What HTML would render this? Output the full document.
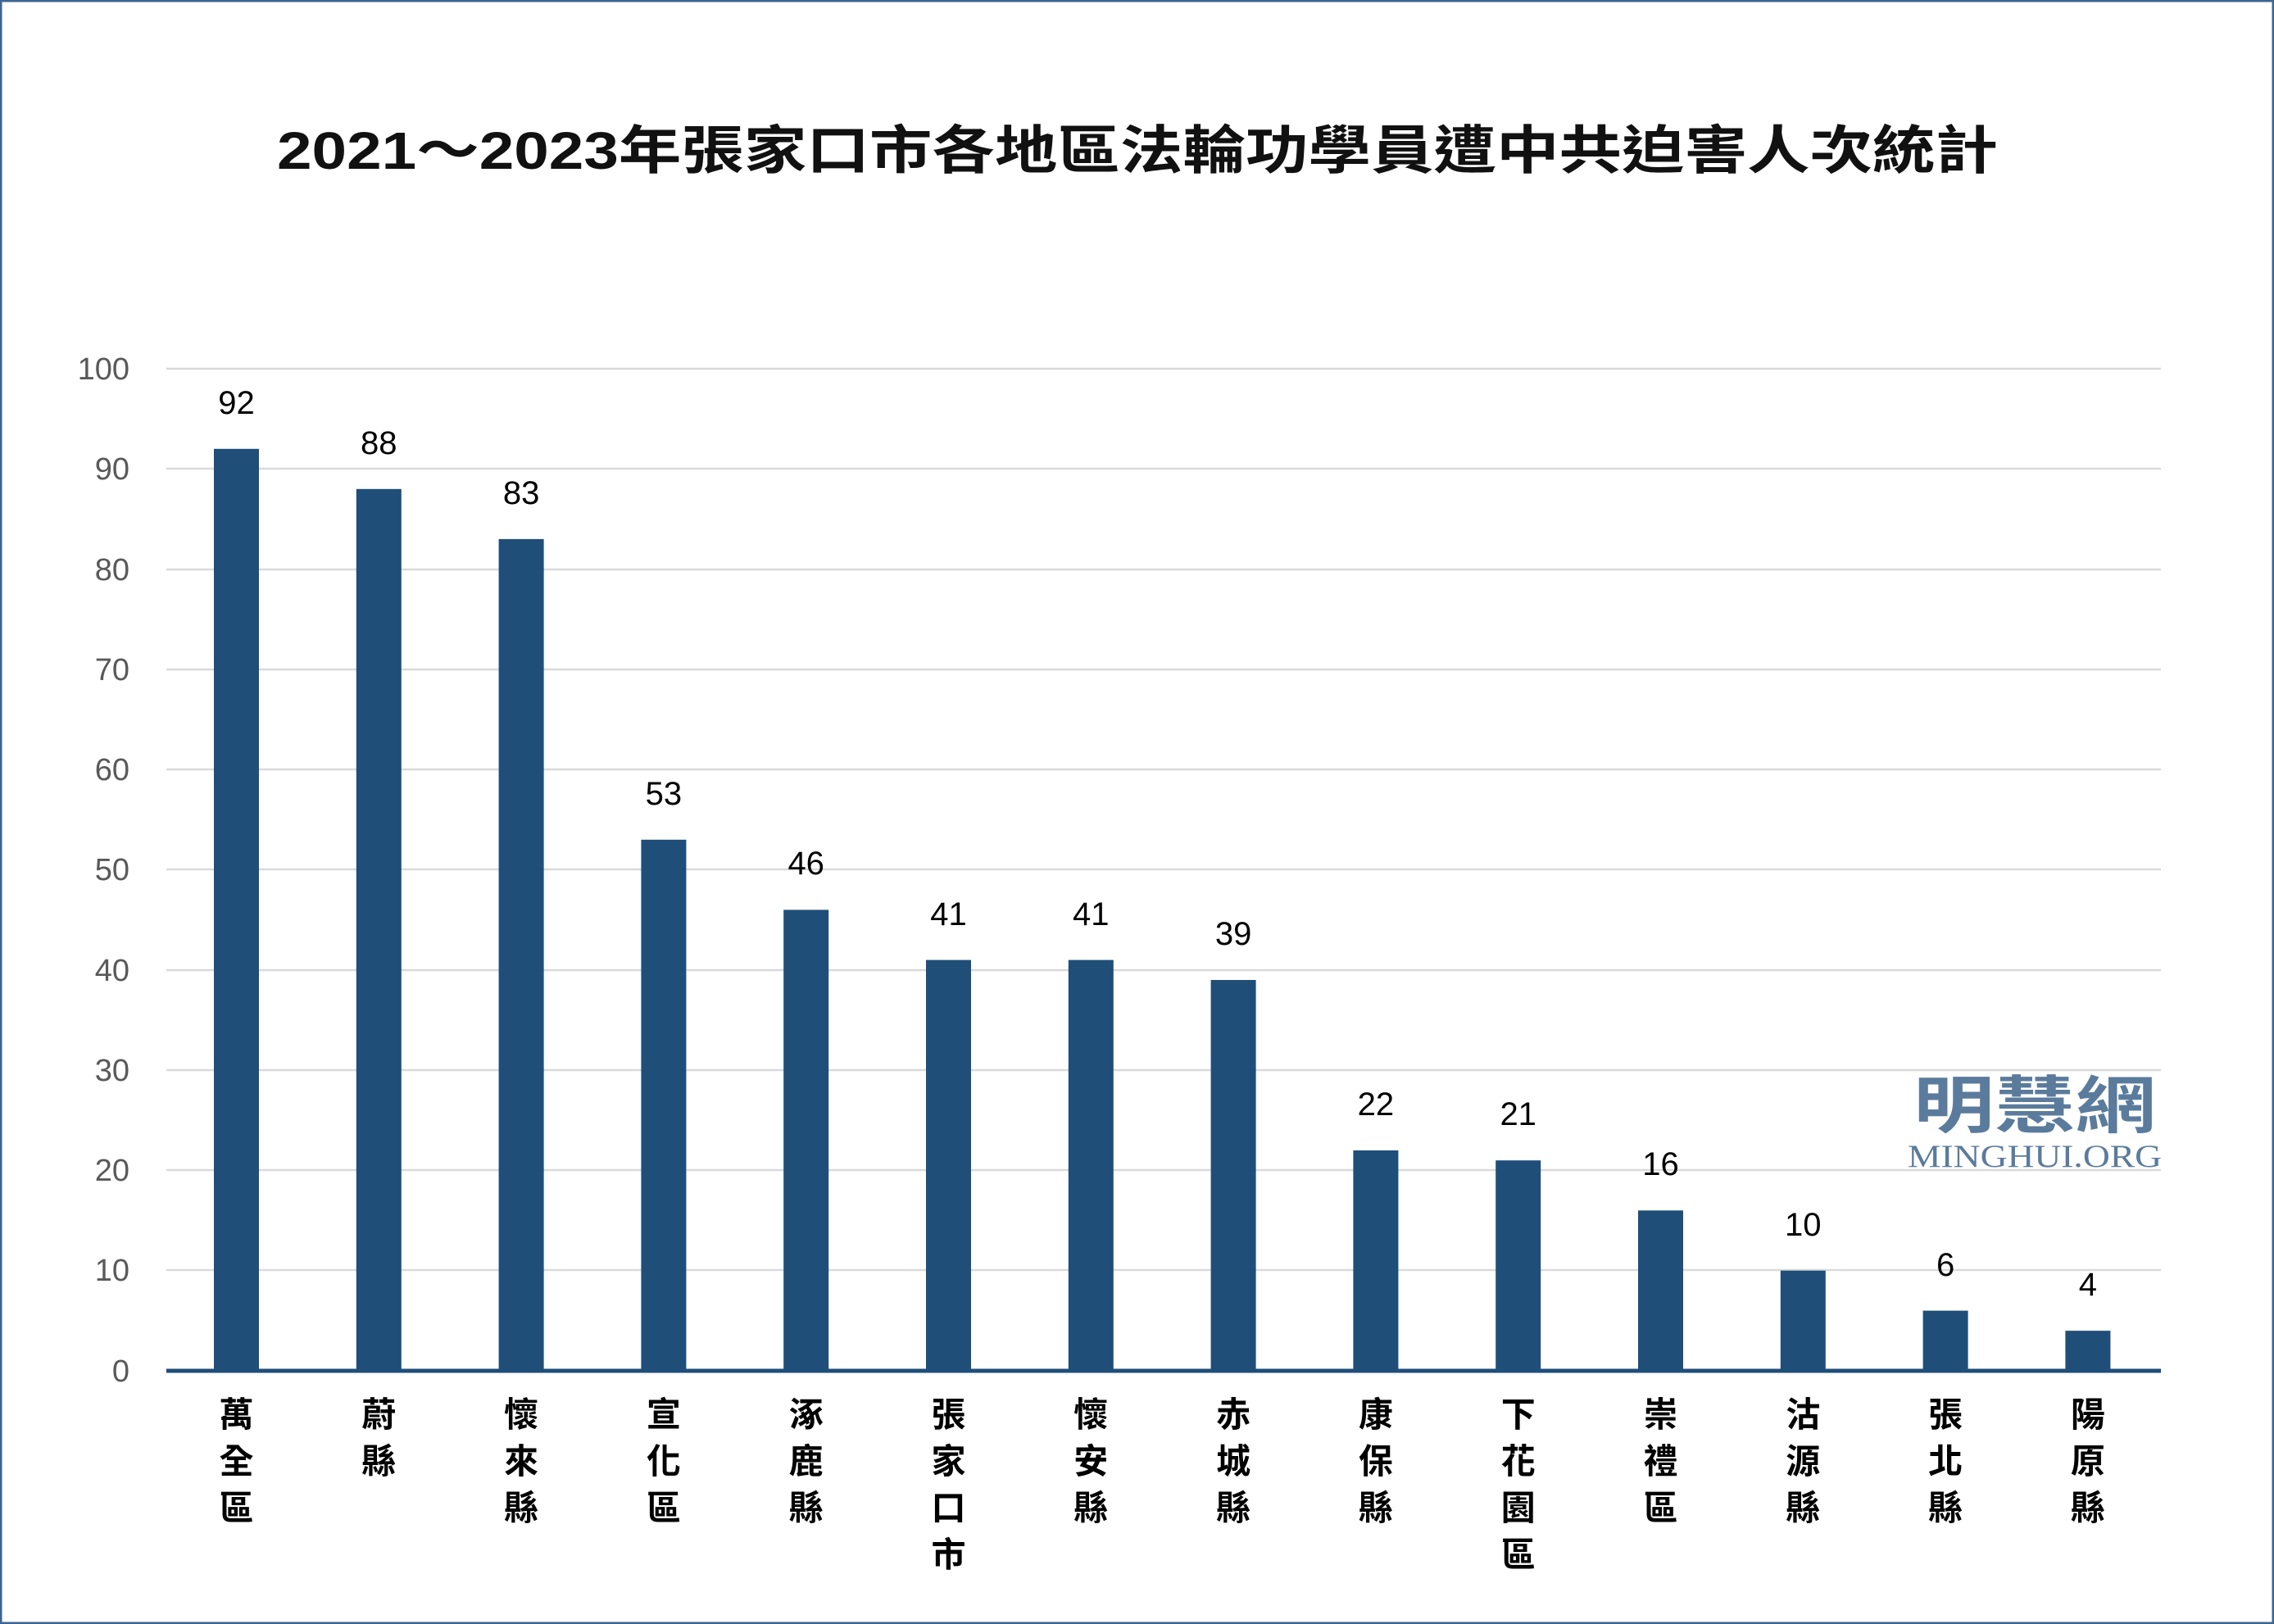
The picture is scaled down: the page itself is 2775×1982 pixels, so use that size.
<!DOCTYPE html>
<html><head><meta charset="utf-8"><style>
html,body{margin:0;padding:0;background:#fff}
svg{display:block}
</style></head><body>
<svg width="2775" height="1982" viewBox="0 0 2775 1982" xmlns="http://www.w3.org/2000/svg">
<rect x="1" y="1" width="2773" height="1980" fill="#fff" stroke="#3d6591" stroke-width="3"/>
<text x="1388" y="206" text-anchor="middle" textLength="2100" lengthAdjust="spacingAndGlyphs" font-family="'Liberation Sans','Noto Sans CJK TC',sans-serif" font-weight="bold" font-size="64" fill="#111">2021～2023年張家口市各地區法輪功學員遭中共迫害人次統計</text>
<g stroke="#d9d9d9" stroke-width="2.5">
<line x1="203" x2="2637" y1="450" y2="450"/>
<line x1="203" x2="2637" y1="572" y2="572"/>
<line x1="203" x2="2637" y1="695" y2="695"/>
<line x1="203" x2="2637" y1="817" y2="817"/>
<line x1="203" x2="2637" y1="939" y2="939"/>
<line x1="203" x2="2637" y1="1061" y2="1061"/>
<line x1="203" x2="2637" y1="1184" y2="1184"/>
<line x1="203" x2="2637" y1="1306" y2="1306"/>
<line x1="203" x2="2637" y1="1428" y2="1428"/>
<line x1="203" x2="2637" y1="1550" y2="1550"/>
</g>
<g font-family="'Liberation Sans',sans-serif" font-size="38" fill="#595959" text-anchor="end">
<text x="158" y="463">100</text><text x="158" y="585">90</text><text x="158" y="708">80</text><text x="158" y="830">70</text><text x="158" y="952">60</text><text x="158" y="1074">50</text><text x="158" y="1197">40</text><text x="158" y="1319">30</text><text x="158" y="1441">20</text><text x="158" y="1563">10</text><text x="158" y="1686">0</text>
</g>
<rect x="2320" y="1310" width="320" height="115" fill="#fff"/>
<text x="2483" y="1376" text-anchor="middle" textLength="296" lengthAdjust="spacingAndGlyphs" font-family="'Noto Sans CJK TC',sans-serif" font-weight="bold" font-size="76" fill="#5a7b9c">明慧網</text>
<text x="2483" y="1424" text-anchor="middle" textLength="310" lengthAdjust="spacingAndGlyphs" font-family="'Liberation Serif',serif" font-size="39" fill="#5a7b9c">MINGHUI.ORG</text>
<g fill="#1f4e79">
<rect x="261" y="547.8" width="55" height="1125.2"/>
<rect x="434.8" y="596.8" width="55" height="1076.2"/>
<rect x="608.6" y="657.9" width="55" height="1015.1"/>
<rect x="782.4" y="1024.8" width="55" height="648.2"/>
<rect x="956.2" y="1110.4" width="55" height="562.6"/>
<rect x="1130" y="1171.6" width="55" height="501.4"/>
<rect x="1303.8" y="1171.6" width="55" height="501.4"/>
<rect x="1477.6" y="1196" width="55" height="477"/>
<rect x="1651.4" y="1404" width="55" height="269"/>
<rect x="1825.2" y="1416.2" width="55" height="256.8"/>
<rect x="1999" y="1477.3" width="55" height="195.7"/>
<rect x="2172.8" y="1550.7" width="55" height="122.3"/>
<rect x="2346.6" y="1599.6" width="55" height="73.4"/>
<rect x="2520.4" y="1624.1" width="55" height="48.9"/>
</g>
<line x1="203" x2="2637" y1="1673" y2="1673" stroke="#1f4e79" stroke-width="5"/>
<g font-family="'Liberation Sans',sans-serif" font-size="40" fill="#000" text-anchor="middle">
<text x="288.5" y="505">92</text>
<text x="462.3" y="554">88</text>
<text x="636.1" y="615">83</text>
<text x="809.9" y="982">53</text>
<text x="983.7" y="1067">46</text>
<text x="1157.5" y="1129">41</text>
<text x="1331.3" y="1129">41</text>
<text x="1505.1" y="1153">39</text>
<text x="1678.9" y="1361">22</text>
<text x="1852.7" y="1373">21</text>
<text x="2026.5" y="1434">16</text>
<text x="2200.3" y="1508">10</text>
<text x="2374.1" y="1557">6</text>
<text x="2547.9" y="1581">4</text>
</g>
<g font-family="'Liberation Sans','Noto Sans CJK TC',sans-serif" font-weight="bold" font-size="42" fill="#000" text-anchor="middle">
<text y="1741"><tspan x="288.5">萬</tspan><tspan x="288.5" dy="57">全</tspan><tspan x="288.5" dy="57">區</tspan></text>
<text y="1741"><tspan x="462.3">蔚</tspan><tspan x="462.3" dy="57">縣</tspan></text>
<text y="1741"><tspan x="636.1">懷</tspan><tspan x="636.1" dy="57">來</tspan><tspan x="636.1" dy="57">縣</tspan></text>
<text y="1741"><tspan x="809.9">宣</tspan><tspan x="809.9" dy="57">化</tspan><tspan x="809.9" dy="57">區</tspan></text>
<text y="1741"><tspan x="983.7">涿</tspan><tspan x="983.7" dy="57">鹿</tspan><tspan x="983.7" dy="57">縣</tspan></text>
<text y="1741"><tspan x="1157.5">張</tspan><tspan x="1157.5" dy="57">家</tspan><tspan x="1157.5" dy="57">口</tspan><tspan x="1157.5" dy="57">市</tspan></text>
<text y="1741"><tspan x="1331.3">懷</tspan><tspan x="1331.3" dy="57">安</tspan><tspan x="1331.3" dy="57">縣</tspan></text>
<text y="1741"><tspan x="1505.1">赤</tspan><tspan x="1505.1" dy="57">城</tspan><tspan x="1505.1" dy="57">縣</tspan></text>
<text y="1741"><tspan x="1678.9">康</tspan><tspan x="1678.9" dy="57">保</tspan><tspan x="1678.9" dy="57">縣</tspan></text>
<text y="1741"><tspan x="1852.7">下</tspan><tspan x="1852.7" dy="57">花</tspan><tspan x="1852.7" dy="57">園</tspan><tspan x="1852.7" dy="57">區</tspan></text>
<text y="1741"><tspan x="2026.5">崇</tspan><tspan x="2026.5" dy="57">禮</tspan><tspan x="2026.5" dy="57">區</tspan></text>
<text y="1741"><tspan x="2200.3">沽</tspan><tspan x="2200.3" dy="57">源</tspan><tspan x="2200.3" dy="57">縣</tspan></text>
<text y="1741"><tspan x="2374.1">張</tspan><tspan x="2374.1" dy="57">北</tspan><tspan x="2374.1" dy="57">縣</tspan></text>
<text y="1741"><tspan x="2547.9">陽</tspan><tspan x="2547.9" dy="57">原</tspan><tspan x="2547.9" dy="57">縣</tspan></text>
</g>
</svg>
</body></html>
